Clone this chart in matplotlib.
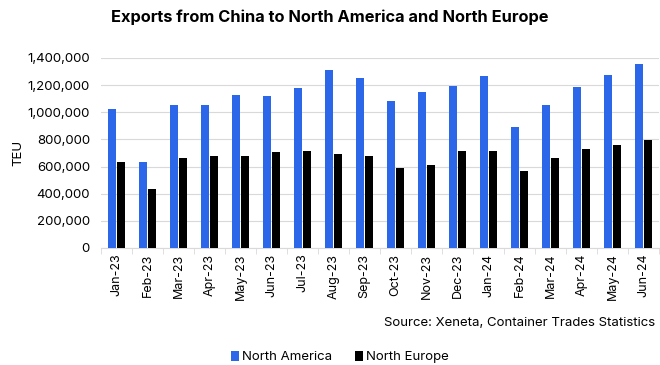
import numpy as np
import matplotlib.pyplot as plt
from matplotlib.ticker import FuncFormatter

months = ['Jan-23', 'Feb-23', 'Mar-23', 'Apr-23', 'May-23', 'Jun-23', 'Jul-23', 'Aug-23',
          'Sep-23', 'Oct-23', 'Nov-23', 'Dec-23', 'Jan-24', 'Feb-24', 'Mar-24', 'Apr-24',
          'May-24', 'Jun-24']
north_america = [1025000, 631000, 1057000, 1057000, 1131000, 1121000, 1176000, 1311000,
                 1255000, 1082000, 1151000, 1195000, 1267000, 892000, 1057000, 1188000,
                 1272000, 1358000]
north_europe = [631000, 436000, 661000, 675000, 678000, 705000, 715000, 690000,
                675000, 589000, 611000, 715000, 715000, 567000, 661000, 730000,
                759000, 796000]

plt.rcParams['font.family'] = ['Inter', 'DejaVu Sans']

fig = plt.figure(figsize=(6.6, 3.65), dpi=100)
ax = fig.add_axes([101 / 660, 1 - 248 / 365, 558 / 660, 190 / 365])

x = np.arange(len(months))
w = 0.27
ax.bar(x - w / 2 - 0.01, north_america, w, color='#2B67E8', label='North America', zorder=3)
ax.bar(x + w / 2 + 0.01, north_europe, w, color='#000000', label='North Europe', zorder=3)

ax.set_xlim(-0.5, len(months) - 0.5)
ax.set_ylim(0, 1400000)
ax.set_yticks(np.arange(0, 1400001, 200000))
ax.yaxis.set_major_formatter(FuncFormatter(lambda v, p: f'{int(v):,}'))
ax.grid(axis='y', color='#d9d9d9', linewidth=0.8, zorder=0)

ax.set_xticks(x)
ax.set_xticklabels(months, rotation=90, fontsize=9)
ax.set_xticks(np.arange(-0.5, len(months)), minor=True)
ax.tick_params(axis='x', which='major', length=0, pad=4)
ax.tick_params(axis='x', which='minor', length=4, color='#d9d9d9')
ax.tick_params(axis='y', length=0, labelsize=9.5, pad=8)

for s in ['top', 'right', 'left']:
    ax.spines[s].set_visible(False)
ax.spines['bottom'].set_color('#d9d9d9')

ax.set_ylabel('TEU', fontsize=9.5, labelpad=2)

fig.text(0.5, 1 - 17 / 365, 'Exports from China to North America and North Europe',
         ha='center', va='center', fontsize=11.8, fontweight='bold')
fig.text(655 / 660, 1 - 323 / 365, 'Source: Xeneta, Container Trades Statistics',
         ha='right', va='center', fontsize=9.5)

fig.legend(loc='center', bbox_to_anchor=(0.515, 1 - 357 / 365), ncol=2, frameon=False,
           fontsize=9.5, handlelength=0.6, handleheight=0.8, handletextpad=0.2,
           columnspacing=1.8)

fig.savefig('out.png', dpi=100)
